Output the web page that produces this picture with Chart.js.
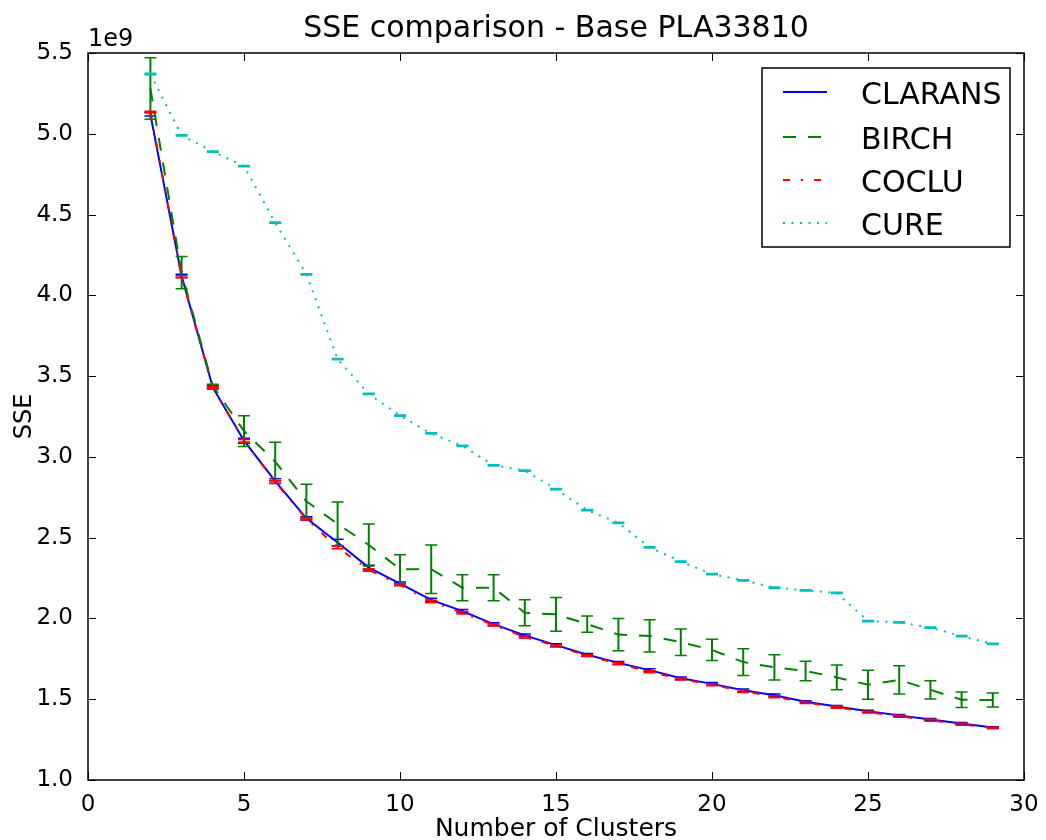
<!DOCTYPE html>
<html>
<head>
<meta charset="utf-8">
<script src="https://cdn.jsdelivr.net/npm/chart.js@4.4.0/dist/chart.umd.min.js"></script>
<style>
  body { margin: 0; background: #ffffff; }
  #wrap { width: 1046px; height: 840px; }
</style>
</head>
<body>
<div id="wrap"><canvas id="grafico" width="1046" height="840"></canvas></div>
<script>
// valores em unidades de 1e9
var clusters = [2, 3, 4, 5, 6, 7, 8, 9, 10, 11, 12, 13, 14, 15, 16, 17, 18, 19, 20, 21, 22, 23, 24, 25, 26, 27, 28, 29];

var clarans = [5.12, 4.12, 3.43, 3.10, 2.85, 2.62, 2.47, 2.315, 2.215, 2.115, 2.045, 1.965, 1.895, 1.835, 1.775, 1.725, 1.68, 1.63, 1.595, 1.555, 1.525, 1.485, 1.455, 1.425, 1.40, 1.375, 1.35, 1.325];
var claransErr = [0.01, 0.01, 0.01, 0.015, 0.015, 0.01, 0.02, 0.015, 0.01, 0.01, 0.01, 0.008, 0.008, 0.008, 0.008, 0.008, 0.008, 0.008, 0.008, 0.008, 0.008, 0.006, 0.006, 0.006, 0.006, 0.006, 0.006, 0.005];

var birch = [5.28, 4.14, 3.44, 3.16, 2.97, 2.725, 2.585, 2.455, 2.305, 2.305, 2.19, 2.19, 2.035, 2.025, 1.965, 1.90, 1.892, 1.853, 1.805, 1.73, 1.697, 1.675, 1.635, 1.59, 1.62, 1.558, 1.497, 1.495];
var birchErr = [0.19, 0.1, 0.01, 0.095, 0.12, 0.105, 0.135, 0.13, 0.09, 0.15, 0.08, 0.08, 0.08, 0.105, 0.05, 0.10, 0.10, 0.082, 0.066, 0.083, 0.078, 0.06, 0.077, 0.09, 0.087, 0.057, 0.048, 0.043];

var coclu = [5.135, 4.115, 3.43, 3.10, 2.845, 2.615, 2.44, 2.30, 2.208, 2.105, 2.035, 1.96, 1.885, 1.83, 1.77, 1.72, 1.67, 1.625, 1.59, 1.55, 1.515, 1.48, 1.45, 1.42, 1.395, 1.37, 1.345, 1.322];
var cocluErr = [0.004, 0.006, 0.006, 0.008, 0.008, 0.006, 0.008, 0.008, 0.006, 0.008, 0.008, 0.006, 0.008, 0.006, 0.006, 0.006, 0.006, 0.006, 0.006, 0.008, 0.006, 0.006, 0.006, 0.006, 0.006, 0.006, 0.006, 0.005];

var cure = [5.37, 4.99, 4.89, 4.80, 4.45, 4.13, 3.605, 3.39, 3.255, 3.145, 3.068, 2.948, 2.915, 2.80, 2.67, 2.592, 2.44, 2.352, 2.274, 2.236, 2.19, 2.174, 2.158, 1.984, 1.976, 1.943, 1.89, 1.842];
var cureErr = [0.004, 0.004, 0.004, 0.004, 0.004, 0.004, 0.004, 0.004, 0.004, 0.004, 0.004, 0.004, 0.004, 0.004, 0.004, 0.004, 0.004, 0.004, 0.004, 0.004, 0.004, 0.004, 0.004, 0.004, 0.004, 0.004, 0.004, 0.004];

var xTicks = [0, 5, 10, 15, 20, 25, 30];
var yTicks = [1.0, 1.5, 2.0, 2.5, 3.0, 3.5, 4.0, 4.5, 5.0, 5.5];

var titulo = "SSE comparison - Base PLA33810";
var rotuloX = "Number of Clusters";
var rotuloY = "SSE";
var fonte = "'DejaVu Sans', sans-serif";

function pontos(valores) {
    return clusters.map(function (c, i) { return { x: c, y: valores[i] }; });
}

function serie(nome, valores, erros, cor, dash, ordem) {
    return {
        label: nome,
        data: pontos(valores),
        erros: erros,
        borderColor: cor,
        backgroundColor: cor,
        borderWidth: 2,
        borderDash: dash,
        pointRadius: 0,
        tension: 0,
        fill: false,
        order: ordem
    };
}

var dados = {
    datasets: [
        serie("CLARANS", clarans, claransErr, "#0000ff", [], 3),
        serie("BIRCH", birch, birchErr, "#008000", [13, 12], 2),
        serie("COCLU", coclu, cocluErr, "#ff0000", [7, 11, 2, 11], 1),
        serie("CURE", cure, cureErr, "#00bfbf", [2, 6.5], 0)
    ]
};

// barras de erro desenhadas junto com cada serie
var pluginErro = {
    id: "barrasErro",
    afterDatasetDraw: function (chart, args) {
        var ds = chart.data.datasets[args.index];
        if (!ds.erros) return;
        var ctx = chart.ctx;
        var xs = chart.scales.x, ys = chart.scales.y;
        ctx.save();
        ctx.strokeStyle = ds.borderColor;
        ctx.setLineDash([]);
        ds.data.forEach(function (p, i) {
            var px = xs.getPixelForValue(p.x);
            var top = ys.getPixelForValue(p.y + ds.erros[i]);
            var bot = ys.getPixelForValue(p.y - ds.erros[i]);
            ctx.lineWidth = 2;
            ctx.beginPath();
            ctx.moveTo(px, top);
            ctx.lineTo(px, bot);
            ctx.stroke();
            ctx.lineWidth = 1.5;
            ctx.beginPath();
            ctx.moveTo(px - 6, top);
            ctx.lineTo(px + 6, top);
            ctx.moveTo(px - 6, bot);
            ctx.lineTo(px + 6, bot);
            ctx.stroke();
        });
        ctx.restore();
    }
};

// moldura, ticks para dentro, titulos e legenda no estilo matplotlib
var pluginMoldura = {
    id: "moldura",
    afterDraw: function (chart) {
        var ctx = chart.ctx;
        var a = chart.chartArea;
        var xs = chart.scales.x, ys = chart.scales.y;
        ctx.save();
        ctx.setLineDash([]);
        ctx.strokeStyle = "#000000";
        ctx.lineWidth = 1;
        ctx.beginPath();
        xTicks.forEach(function (v) {
            var px = Math.round(xs.getPixelForValue(v)) + 0.5;
            ctx.moveTo(px, a.bottom); ctx.lineTo(px, a.bottom - 8);
            ctx.moveTo(px, a.top); ctx.lineTo(px, a.top + 8);
        });
        yTicks.forEach(function (v) {
            var py = Math.round(ys.getPixelForValue(v)) + 0.5;
            ctx.moveTo(a.left, py); ctx.lineTo(a.left + 8, py);
            ctx.moveTo(a.right, py); ctx.lineTo(a.right - 8, py);
        });
        ctx.stroke();
        ctx.lineWidth = 1.5;
        ctx.strokeRect(a.left, a.top, a.right - a.left, a.bottom - a.top);

        ctx.fillStyle = "#000000";
        ctx.textAlign = "center";
        ctx.textBaseline = "alphabetic";
        ctx.font = "30px " + fonte;
        ctx.fillText(titulo, (a.left + a.right) / 2, 37);
        ctx.font = "25px " + fonte;
        ctx.fillText(rotuloX, (a.left + a.right) / 2, 836);
        ctx.save();
        ctx.translate(31, (a.top + a.bottom) / 2);
        ctx.rotate(-Math.PI / 2);
        ctx.font = "24px " + fonte;
        ctx.fillText(rotuloY, 0, 0);
        ctx.restore();
        ctx.textAlign = "left";
        ctx.font = "24px " + fonte;
        ctx.fillText("1e9", a.left, 46);

        // legenda
        var lx = 762, ly = 68, lw = 248, lh = 179;
        ctx.fillStyle = "#ffffff";
        ctx.fillRect(lx, ly, lw, lh);
        ctx.lineWidth = 1.5;
        ctx.strokeRect(lx, ly, lw, lh);
        var linhas = [92, 137, 180, 223];
        ctx.font = "30px " + fonte;
        chart.data.datasets.forEach(function (ds, i) {
            var y = linhas[i];
            ctx.strokeStyle = ds.borderColor;
            ctx.lineWidth = 2;
            ctx.setLineDash(ds.borderDash);
            ctx.beginPath();
            ctx.moveTo(783, y);
            ctx.lineTo(827, y);
            ctx.stroke();
            ctx.setLineDash([]);
            ctx.fillStyle = "#000000";
            ctx.fillText(ds.label, 861, y + 12);
        });
        ctx.restore();
    }
};

Chart.defaults.font.family = fonte;
Chart.defaults.color = "#000000";

var grafico = new Chart(document.getElementById("grafico"), {
    type: "line",
    data: dados,
    options: {
        responsive: false,
        devicePixelRatio: 1,
        animation: false,
        layout: { padding: { left: 0, right: 22, top: 53, bottom: 0 } },
        plugins: {
            legend: { display: false },
            title: { display: false },
            tooltip: { enabled: false }
        },
        scales: {
            x: {
                type: "linear",
                min: 0,
                max: 30,
                grid: { display: false },
                border: { display: false },
                afterFit: function (scale) { scale.height = 60; },
                afterBuildTicks: function (scale) {
                    scale.ticks = xTicks.map(function (v) { return { value: v }; });
                },
                ticks: {
                    font: { size: 23 },
                    padding: 3,
                    maxRotation: 0,
                    callback: function (v) { return String(v); }
                }
            },
            y: {
                type: "linear",
                min: 1.0,
                max: 5.5,
                grid: { display: false },
                border: { display: false },
                afterFit: function (scale) { scale.width = 88; },
                afterBuildTicks: function (scale) {
                    scale.ticks = yTicks.map(function (v) { return { value: v }; });
                },
                ticks: {
                    font: { size: 23 },
                    padding: 7,
                    callback: function (v) { return v.toFixed(1); }
                }
            }
        }
    },
    plugins: [pluginErro, pluginMoldura]
});
</script>
</body>
</html>
